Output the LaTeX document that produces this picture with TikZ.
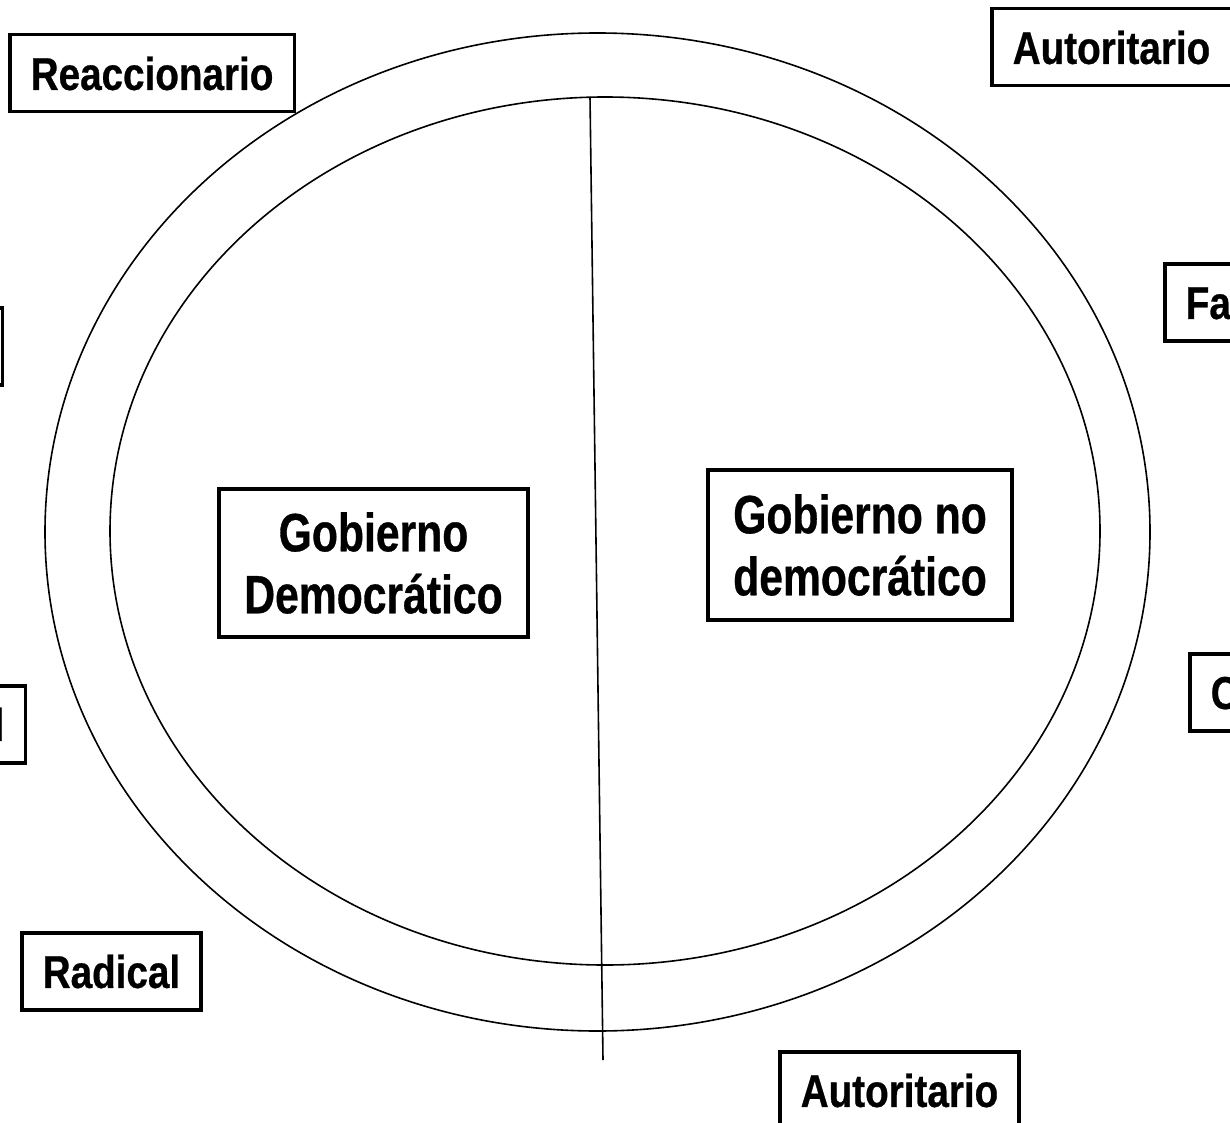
\documentclass[tikz,border=0pt]{standalone}
\usepackage{fontspec}
\newfontfamily\lbl{Liberation Sans}[FakeStretch=0.84,FakeBold=0.6]
\newfontfamily\lblc{Liberation Sans}[FakeStretch=0.79,FakeBold=0.6]
\begin{document}
\begin{tikzpicture}[x=1pt,y=1pt,
  lab/.style={draw=black,line width=3.5pt,fill=white,font=\lbl\bfseries\fontsize{46}{52}\selectfont,
    inner xsep=21pt,inner ysep=0pt,minimum height=77pt,text depth=0pt},
  big/.style={draw=black,line width=3.5pt,font=\lblc\bfseries\fontsize{54}{62}\selectfont,
    align=center,inner sep=0pt,minimum width=#1},
  ring/.style={line width=1.6pt}]
\useasboundingbox (0,0) rectangle (1230,-1123);
\clip (0,0) rectangle (1230,-1123);
\fill[white] (0,0) rectangle (1230,-1123);
% rings
\draw[ring] (597.5,-532) ellipse [x radius=552.5, y radius=499];
\draw[ring] (605,-531) ellipse [x radius=495, y radius=434];
% dividing line
\coordinate (top) at (590,-97);
\coordinate (bot) at (603,-1060);
\draw[line width=1.6pt] (top) -- (bot);
% centre boxes
\node[big=309pt, minimum height=148pt] (dem) at (373.5,-563) {Gobierno\\Democrático};
\node[big=304pt, minimum height=150pt] (nodem) at (860,-545) {Gobierno no\\democrático};
% outer labels
\node[lab, anchor=north west] (reac) at (8,-33) {Reaccionario};
\node[lab, anchor=north west] (aut1) at (990,-7) {Autoritario};
\node[lab, anchor=north west] (fas) at (1163,-262) {Fascista};
\node[lab, anchor=north west] (com) at (1188,-652) {Comunista};
\node[lab, anchor=north east] (con) at (4,-306) {Conservador};
\node[lab, anchor=north east] (lib) at (27,-684) {Liberal};
\node[lab, anchor=north west] (rad) at (20,-931) {Radical};
\node[lab, anchor=north west] (aut2) at (778,-1050) {Autoritario};
\end{tikzpicture}
\end{document}
